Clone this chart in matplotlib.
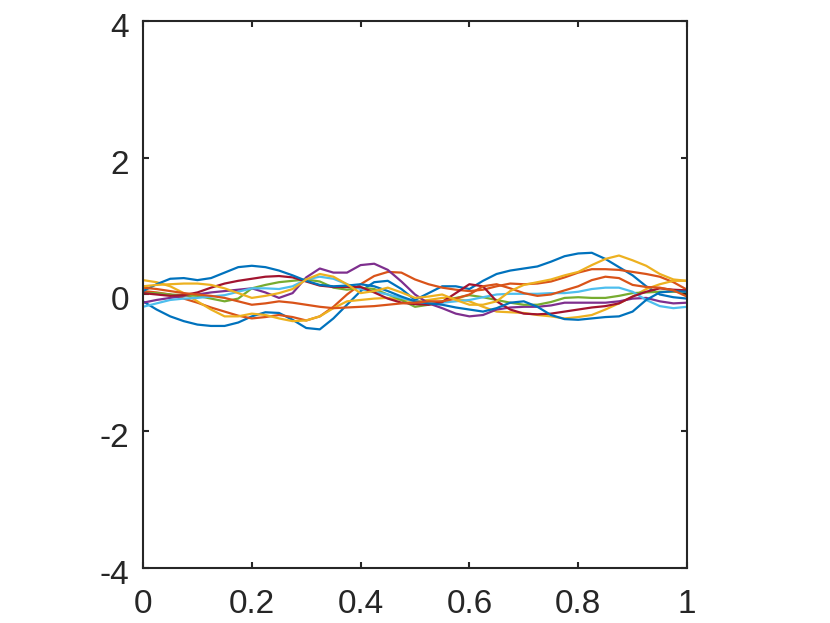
import numpy as np
import matplotlib
matplotlib.use("Agg")
import matplotlib.pyplot as plt
from matplotlib.transforms import ScaledTranslation

# sample positions (read every 0.025 along x)
t = np.linspace(0, 1, 41)

# ten sample paths
blue_1 = [-0.10, -0.22, -0.32, -0.39, -0.44, -0.46, -0.46, -0.41, -0.32, -0.26, -0.27,
          -0.37, -0.49, -0.51, -0.35, -0.15, 0.05, 0.18, 0.20, 0.08, -0.08,
          0.02, 0.12, 0.12, 0.08, 0.20, 0.30, 0.35, 0.38, 0.41, 0.48,
          0.56, 0.60, 0.61, 0.52, 0.40, 0.28, 0.12, 0.00, -0.04, -0.06]
orange_1 = [0.05, 0.03, 0.00, -0.06, -0.12, -0.19, -0.25, -0.31, -0.35, -0.33, -0.30,
            -0.33, -0.38, -0.32, -0.18, 0.00, 0.15, 0.27, 0.33, 0.32, 0.22,
            0.15, 0.10, 0.07, 0.05, 0.07, 0.12, 0.16, 0.15, 0.16, 0.19,
            0.25, 0.32, 0.37, 0.37, 0.36, 0.33, 0.30, 0.26, 0.18, 0.07]
yellow_1 = [0.21, 0.18, 0.12, 0.02, -0.10, -0.22, -0.32, -0.32, -0.28, -0.30, -0.35,
            -0.39, -0.38, -0.32, -0.20, -0.10, -0.08, -0.06, -0.05, -0.08, -0.10,
            -0.08, -0.05, -0.06, -0.10, -0.18, -0.25, -0.26, -0.27, -0.30, -0.32,
            -0.35, -0.33, -0.30, -0.22, -0.13, -0.03, 0.08, 0.15, 0.20, 0.20]
purple = [-0.12, -0.08, -0.05, -0.02, 0.00, 0.03, 0.05, 0.07, 0.09, 0.03, -0.05,
          0.02, 0.25, 0.38, 0.32, 0.32, 0.43, 0.45, 0.36, 0.19, 0.00,
          -0.13, -0.20, -0.28, -0.32, -0.30, -0.22, -0.19, -0.18, -0.18, -0.16,
          -0.12, -0.12, -0.12, -0.12, -0.10, -0.06, -0.05, -0.10, -0.13, -0.12]
green = [0.02, 0.02, 0.00, -0.01, -0.02, -0.06, -0.10, -0.06, 0.09, 0.14, 0.18,
         0.20, 0.22, 0.19, 0.10, 0.07, 0.10, 0.08, 0.00, -0.08, -0.18,
         -0.15, -0.10, -0.05, -0.01, -0.04, -0.08, -0.12, -0.15, -0.15, -0.11,
         -0.05, -0.04, -0.05, -0.05, -0.02, 0.02, 0.03, 0.04, 0.04, 0.04]
light_blue = [-0.18, -0.13, -0.08, -0.06, -0.05, -0.03, -0.01, 0.04, 0.09, 0.09, 0.08,
              0.12, 0.22, 0.26, 0.23, 0.15, 0.08, 0.04, 0.00, -0.05, -0.10,
              -0.12, -0.12, -0.10, -0.08, -0.04, 0.00, 0.01, 0.01, 0.01, 0.02,
              0.02, 0.04, 0.08, 0.10, 0.10, 0.04, -0.08, -0.17, -0.20, -0.18]
dark_red = [0.02, 0.00, -0.02, -0.01, 0.03, 0.10, 0.16, 0.20, 0.23, 0.26, 0.27,
            0.25, 0.19, 0.13, 0.11, 0.11, 0.11, 0.03, -0.06, -0.12, -0.14,
            -0.15, -0.11, 0.02, 0.15, 0.12, -0.10, -0.22, -0.28, -0.29, -0.28,
            -0.25, -0.22, -0.19, -0.17, -0.13, -0.03, 0.04, 0.09, 0.07, 0.06]
blue_2 = [0.05, 0.15, 0.23, 0.24, 0.21, 0.24, 0.32, 0.40, 0.42, 0.40, 0.35,
          0.28, 0.20, 0.14, 0.12, 0.13, 0.15, 0.12, 0.05, -0.03, -0.10,
          -0.13, -0.15, -0.19, -0.22, -0.25, -0.20, -0.12, -0.10, -0.18, -0.30,
          -0.36, -0.37, -0.35, -0.33, -0.32, -0.25, -0.08, 0.03, 0.05, 0.04]
orange_2 = [0.10, 0.08, 0.05, 0.02, 0.00, -0.02, -0.05, -0.10, -0.15, -0.13, -0.10,
            -0.12, -0.15, -0.18, -0.20, -0.19, -0.18, -0.17, -0.15, -0.13, -0.12,
            -0.10, -0.10, -0.06, 0.00, 0.12, 0.15, 0.09, 0.02, -0.02, 0.00,
            0.06, 0.12, 0.21, 0.26, 0.24, 0.14, 0.11, 0.10, 0.06, -0.03]
yellow_2 = [0.12, 0.14, 0.15, 0.16, 0.16, 0.14, 0.09, 0.02, -0.05, -0.02, 0.02,
            0.08, 0.22, 0.30, 0.26, 0.15, 0.02, 0.05, 0.10, 0.03, -0.05,
            -0.03, 0.00, -0.08, -0.15, -0.15, -0.10, 0.05, 0.14, 0.18, 0.22,
            0.28, 0.33, 0.43, 0.52, 0.57, 0.50, 0.42, 0.30, 0.22, 0.20]

paths = [blue_1, orange_1, yellow_1, purple, green, light_blue, dark_red,
         blue_2, orange_2, yellow_2]
colors = ["#0072BD", "#D95319", "#EDB120", "#7E2F8E", "#77AC30", "#4DBEEE",
          "#A2142F", "#0072BD", "#D95319", "#EDB120"]

x_ticks = [0, 0.2, 0.4, 0.6, 0.8, 1]
x_labels = ["0", "0.2", "0.4", "0.6", "0.8", "1"]
y_ticks = [-4, -2, 0, 2, 4]
y_labels = ["-4", "-2", "0", "2", "4"]

plt.rcParams["font.family"] = ["Liberation Sans", "DejaVu Sans"]
plt.rcParams["axes.unicode_minus"] = False

fig = plt.figure(figsize=(8.3, 6.23), dpi=100)
ax = fig.add_axes([0.1723, 0.0883, 0.6554, 0.878])

for y, c in zip(paths, colors):
    ax.plot(t, y, color=c, linewidth=1.6)

ax.set_xlim(0, 1)
ax.set_ylim(-4, 4)
ax.set_xticks(x_ticks)
ax.set_xticklabels(x_labels)
ax.set_yticks(y_ticks)
ax.set_yticklabels(y_labels)

dark = "#262626"
for s in ax.spines.values():
    s.set_linewidth(1.5)
    s.set_color(dark)
ax.tick_params(direction="in", length=4, width=1.5, colors=dark,
               labelsize=24, top=True, right=True)
ax.tick_params(axis="x", pad=15)
ax.tick_params(axis="y", pad=10)

# MATLAB sits the y labels a touch below their ticks
shift = ScaledTranslation(0, -4 / 100, fig.dpi_scale_trans)
for lab in ax.get_yticklabels():
    lab.set_transform(lab.get_transform() + shift)

fig.savefig("out.png", dpi=100)
